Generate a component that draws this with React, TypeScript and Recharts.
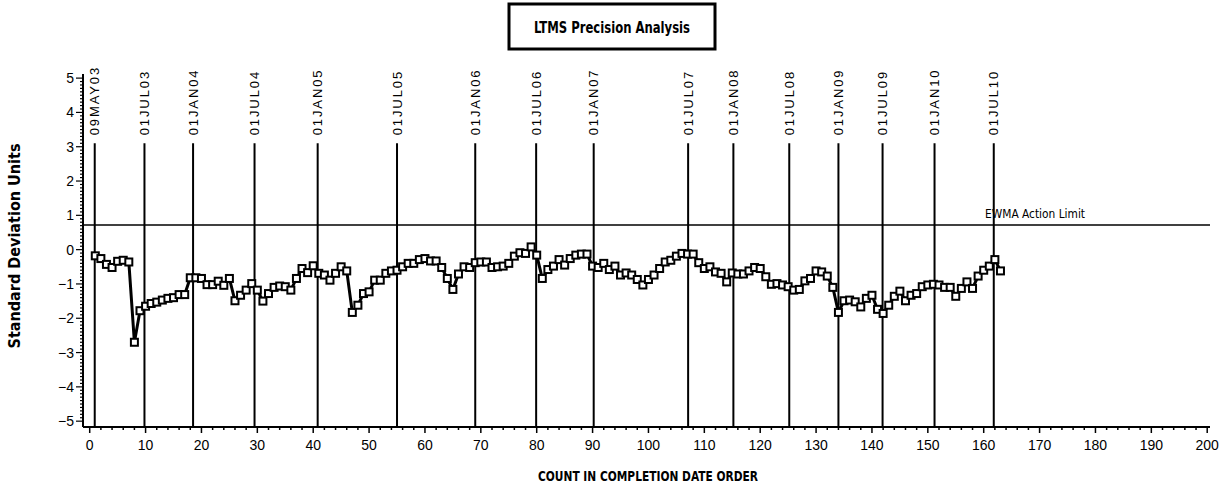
import React from 'react';
import { ComposedChart, Line, XAxis, YAxis, ReferenceLine } from 'recharts';

// EWMA values in standard deviation units, in completion order (count 1..163)
const ewmaValues: number[] = [
  -0.18, -0.26, -0.43, -0.52, -0.34, -0.31, -0.36, -2.70, -1.78, -1.65,
  -1.57, -1.53, -1.47, -1.42, -1.40, -1.31, -1.31, -0.82, -0.82, -0.84,
  -1.02, -1.02, -0.92, -1.04, -0.84, -1.49, -1.33, -1.18, -0.99, -1.18,
  -1.50, -1.28, -1.10, -1.06, -1.08, -1.18, -0.84, -0.55, -0.67, -0.47,
  -0.69, -0.74, -0.89, -0.69, -0.50, -0.62, -1.83, -1.62, -1.28, -1.23,
  -0.89, -0.89, -0.69, -0.62, -0.60, -0.50, -0.40, -0.40, -0.29, -0.26,
  -0.33, -0.33, -0.52, -0.84, -1.16, -0.71, -0.50, -0.52, -0.38, -0.36,
  -0.36, -0.52, -0.50, -0.48, -0.40, -0.19, -0.09, -0.11, 0.08, -0.16,
  -0.84, -0.58, -0.48, -0.29, -0.45, -0.26, -0.16, -0.13, -0.13, -0.48,
  -0.52, -0.40, -0.58, -0.48, -0.74, -0.68, -0.74, -0.87, -1.03, -0.87,
  -0.74, -0.55, -0.36, -0.31, -0.19, -0.11, -0.13, -0.13, -0.38, -0.55,
  -0.50, -0.65, -0.69, -0.94, -0.68, -0.71, -0.71, -0.62, -0.52, -0.55,
  -0.79, -1.01, -0.99, -1.03, -1.08, -1.18, -1.16, -0.91, -0.84, -0.62,
  -0.65, -0.77, -1.10, -1.83, -1.49, -1.47, -1.52, -1.67, -1.42, -1.33,
  -1.74, -1.86, -1.62, -1.36, -1.21, -1.49, -1.33, -1.28, -1.08, -1.03,
  -1.01, -1.03, -1.10, -1.10, -1.36, -1.13, -0.94, -1.13, -0.77, -0.60,
  -0.48, -0.29, -0.62,
];

const dateLabels: string[] = [
  '09MAY03', '01JUL03', '01JAN04', '01JUL04', '01JAN05', '01JUL05', '01JAN06', '01JUL06',
  '01JAN07', '01JUL07', '01JAN08', '01JUL08', '01JAN09', '01JUL09', '01JAN10', '01JUL10',
];
const datePositions: number[] = [
  0.9, 9.8, 18.5, 29.5, 40.8, 55.0, 69.0, 79.9, 90.2, 107.1, 115.2, 125.2, 134.0, 141.9, 151.2, 161.8,
];

const actionLimit = 0.72;
const actionLimitLabel = 'EWMA Action Limit';
const dateLineTop = 3.1;

const xDomain: [number, number] = [-1.2, 200.5];
const yDomain: [number, number] = [-5.17, 5.12];
const xTicks: number[] = Array.from({ length: 101 }, (_, k) => k * 2);
const yTicks: number[] = Array.from({ length: 101 }, (_, k) => (k - 50) / 10);

const chartTitle = 'LTMS Precision Analysis';
const xTitle = 'COUNT IN COMPLETION DATE ORDER';
const yTitle = 'Standard Deviation Units';

const data = ewmaValues.map((v, i) => ({ count: i + 1, v }));

const TICK_FONT = '"Liberation Sans", Arial, sans-serif';
const HEAVY_FONT = '"Liberation Sans Narrow", "DejaVu Sans Condensed", "Liberation Sans", Arial, sans-serif';

const XTick = (props: any) => {
  const { x, y, payload } = props;
  const v = payload.value as number;
  const major = Math.abs(v % 10) < 1e-6;
  return (
    <g>
      <line x1={x} x2={x} y1={y} y2={y + (major ? 6 : 3)} stroke="#000" strokeWidth={1.5} />
      {major && (
        <text x={x} y={y + 23} textAnchor="middle" fontSize={14} fontFamily={TICK_FONT} fill="#000">
          {v}
        </text>
      )}
    </g>
  );
};

const YTick = (props: any) => {
  const { x, y, payload } = props;
  const v = payload.value as number;
  const major = Math.abs(v - Math.round(v)) < 1e-6;
  const r = Math.round(v);
  const label = r < 0 ? `\u2212${Math.abs(r)}` : `${r}`;
  return (
    <g>
      <line x1={x} x2={x - (major ? 7 : 3)} y1={y} y2={y} stroke="#000" strokeWidth={1.2} />
      {major && (
        <text x={x - 9} y={y + 5} textAnchor="end" fontSize={14} fontFamily={TICK_FONT} fill="#000">
          {label}
        </text>
      )}
    </g>
  );
};

const SquareDot = (props: any) => {
  const { cx, cy } = props;
  if (cx == null || cy == null) return <g />;
  return <rect x={cx - 3.5} y={cy - 3.5} width={7} height={7} fill="#fff" stroke="#000" strokeWidth={2} />;
};

const makeDateLabel = (text: string) => (props: any) => {
  const vb = props.viewBox || {};
  const x = (vb.x ?? 0) + 4.5;
  const y = (vb.y ?? 0) - 8;
  return (
    <text
      x={x}
      y={y}
      transform={`rotate(-90 ${x} ${y})`}
      textAnchor="start"
      fontSize={13}
      letterSpacing={1.9}
      fontFamily={TICK_FONT}
      fill="#000"
    >
      {text}
    </text>
  );
};

const ActionLabel = (props: any) => {
  const vb = props.viewBox || {};
  const x = (vb.x ?? 0) + (vb.width ?? 0) - 225;
  const y = (vb.y ?? 0) - 7;
  return (
    <text x={x} y={y} fontSize={13} fontFamily={HEAVY_FONT} textLength={100} lengthAdjust="spacingAndGlyphs" fill="#000">
      {actionLimitLabel}
    </text>
  );
};

export default function App() {
  return (
    <div style={{ position: 'absolute', left: 0, top: 0, width: 1225, height: 489, background: '#fff' }}>
      <ComposedChart width={1225} height={489} data={data} margin={{ top: 74, right: 15, bottom: 0, left: 0 }}>
        <XAxis
          dataKey="count"
          type="number"
          domain={xDomain}
          allowDataOverflow
          ticks={xTicks}
          interval={0}
          tickLine={false}
          tickSize={0}
          tickMargin={0}
          tick={<XTick />}
          height={62}
          axisLine={{ stroke: '#000', strokeWidth: 2 }}
        />
        <YAxis
          type="number"
          domain={yDomain}
          allowDataOverflow
          ticks={yTicks}
          interval={0}
          tickLine={false}
          tickSize={0}
          tickMargin={0}
          tick={<YTick />}
          width={83}
          axisLine={{ stroke: '#000', strokeWidth: 2 }}
        />
        <ReferenceLine y={actionLimit} stroke="#000" strokeWidth={1.5} label={ActionLabel} />
        {datePositions.map((p, i) => (
          <ReferenceLine
            key={dateLabels[i]}
            segment={[{ x: p, y: yDomain[0] }, { x: p, y: dateLineTop }]}
            stroke="#000"
            strokeWidth={2}
            label={makeDateLabel(dateLabels[i])}
          />
        ))}
        <Line
          dataKey="v"
          stroke="#000"
          strokeWidth={3}
          dot={SquareDot}
          activeDot={false}
          isAnimationActive={false}
        />
      </ComposedChart>
      <svg width={1225} height={489} style={{ position: 'absolute', left: 0, top: 0, pointerEvents: 'none' }}>
        <rect x={509} y={4} width={206} height={45} fill="none" stroke="#000" strokeWidth={3} />
        <text x={612} y={33} textAnchor="middle" fontSize={15} fontWeight={900} fontFamily={HEAVY_FONT} textLength={156} lengthAdjust="spacingAndGlyphs" fill="#000">
          {chartTitle}
        </text>
        <text x={648} y={481} textAnchor="middle" fontSize={14} fontWeight={900} fontFamily={HEAVY_FONT} textLength={220} lengthAdjust="spacingAndGlyphs" fill="#000">
          {xTitle}
        </text>
        <text x={20} y={246} transform="rotate(-90 20 246)" textAnchor="middle" fontSize={16} fontWeight={900} fontFamily={HEAVY_FONT} textLength={205} lengthAdjust="spacingAndGlyphs" fill="#000">
          {yTitle}
        </text>
      </svg>
    </div>
  );
}
